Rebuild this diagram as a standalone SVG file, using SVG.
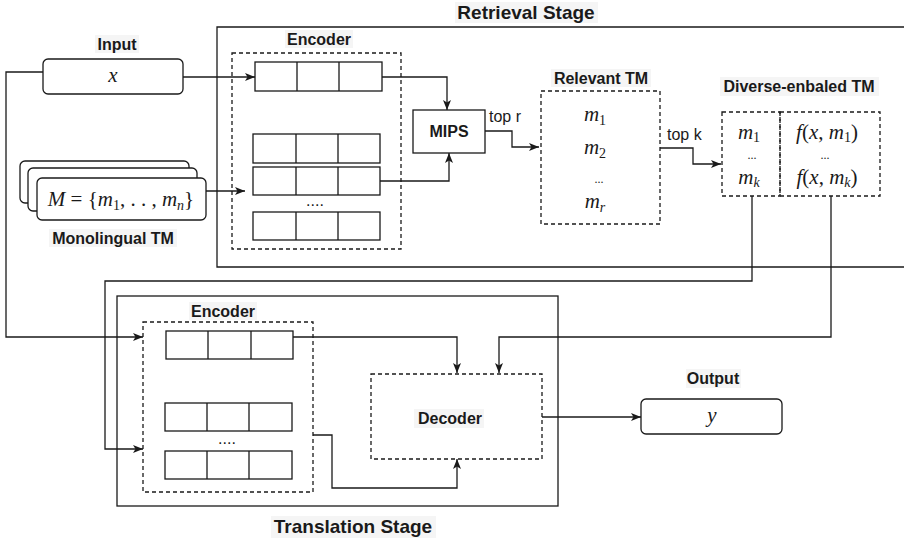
<svg xmlns="http://www.w3.org/2000/svg" width="904" height="543" viewBox="0 0 904 543">
<defs>
<style>
.ln{fill:none;stroke:#1a1a1a;stroke-width:1.3}
.box{fill:#fff;stroke:#1a1a1a;stroke-width:1.3}
.dash{fill:none;stroke:#1a1a1a;stroke-width:1.3;stroke-dasharray:4 3}
.lbl{font-family:"Liberation Sans",Arial,sans-serif;font-weight:bold;font-size:16px;fill:#1a1a1a;text-anchor:middle}
.stage{font-family:"Liberation Sans",Arial,sans-serif;font-weight:bold;font-size:19px;fill:#1a1a1a;text-anchor:middle}
.txt{font-family:"Liberation Sans",Arial,sans-serif;font-size:16px;fill:#1a1a1a}
.math{font-family:"Liberation Serif","Times New Roman",serif;font-size:21px;fill:#1a1a1a;text-anchor:middle}
.it{font-style:italic}
.sub{font-size:14px}
.dots{font-family:"Liberation Serif","Times New Roman",serif;font-size:12px;fill:#1a1a1a;text-anchor:middle}
.bg{fill:#f5f5f5}
</style>
<marker id="arr" viewBox="0 0 10 8" markerWidth="10" markerHeight="8" refX="10" refY="4" orient="auto" markerUnits="userSpaceOnUse">
<path d="M0,0 L10,4 L0,8 L2.5,4 Z" fill="#1a1a1a"/>
</marker>
</defs>

<g id="retrieval-stage">
<path class="ln" d="M904,27 H217 V267 H904"/>
<rect class="bg" x="455" y="2" width="143" height="21"/>
<text class="stage" x="526" y="19">Retrieval Stage</text>
</g>

<g id="translation-stage">
<rect class="ln" x="117" y="296" width="441" height="210"/>
<rect class="bg" x="271" y="516" width="165" height="22"/>
<text class="stage" x="353" y="533">Translation Stage</text>
</g>

<g id="input">
<rect class="bg" x="95" y="35" width="44" height="18"/>
<text class="lbl" x="117" y="50">Input</text>
<rect class="box" x="43" y="59" width="140" height="35" rx="5"/>
<text class="math it" x="113" y="82">x</text>
</g>

<g id="monolingual-tm">
<rect class="box" x="20" y="161" width="169" height="42" rx="5"/>
<rect class="box" x="28" y="168" width="169" height="43" rx="5"/>
<rect class="box" x="37" y="178" width="169" height="42" rx="5"/>
<text class="math" x="121" y="206"><tspan class="it">M</tspan> = {<tspan class="it">m</tspan><tspan class="sub" dy="4">1</tspan><tspan dy="-4">, . . , </tspan><tspan class="it">m</tspan><tspan class="sub it" dy="4">n</tspan><tspan dy="-4">}</tspan></text>
<rect class="bg" x="49" y="229" width="128" height="18"/>
<text class="lbl" x="113" y="244">Monolingual TM</text>
</g>

<g id="retrieval-encoder">
<rect class="bg" x="285" y="30" width="68" height="18"/>
<text class="lbl" x="319" y="45">Encoder</text>
<rect class="dash" x="232" y="53" width="169" height="196"/>
<rect class="box" x="255" y="62" width="127" height="29"/>
<path class="ln" d="M297,62 V91 M339,62 V91"/>
<rect class="box" x="253" y="134" width="127" height="29"/>
<path class="ln" d="M296,134 V163 M338,134 V163"/>
<rect class="box" x="253" y="167" width="127" height="28"/>
<path class="ln" d="M296,167 V195 M338,167 V195"/>
<text class="txt" x="315" y="206" text-anchor="middle" font-size="11">....</text>
<rect class="box" x="253" y="212" width="127" height="28"/>
<path class="ln" d="M296,212 V240 M338,212 V240"/>
</g>

<g id="mips">
<rect class="box" x="413" y="110" width="72" height="43"/>
<text class="lbl" x="449" y="137">MIPS</text>
</g>

<g id="relevant-tm">
<rect class="bg" x="551" y="69" width="100" height="18"/>
<text class="lbl" x="601" y="84">Relevant TM</text>
<rect class="dash" x="541" y="91" width="119" height="133"/>
<text class="math it" x="595" y="121">m<tspan class="sub" font-style="normal" dy="4">1</tspan></text>
<text class="math it" x="595" y="154">m<tspan class="sub" font-style="normal" dy="4">2</tspan></text>
<text class="dots" x="599" y="183">...</text>
<text class="math it" x="595" y="208">m<tspan class="sub" dy="4">r</tspan></text>
</g>

<g id="diverse-tm">
<rect class="bg" x="720" y="77" width="159" height="19"/>
<text class="lbl" x="799" y="92">Diverse-enbaled TM</text>
<rect class="dash" x="722" y="112" width="58" height="84"/>
<rect class="dash" x="780" y="112" width="100" height="84"/>
<text class="math it" x="749" y="139">m<tspan class="sub" font-style="normal" dy="3">1</tspan></text>
<text class="dots" x="752" y="159">...</text>
<text class="math it" x="749" y="184">m<tspan class="sub" dy="3">k</tspan></text>
<text class="math" x="827" y="139"><tspan class="it">f</tspan>(<tspan class="it">x</tspan>, <tspan class="it">m</tspan><tspan class="sub" dy="3">1</tspan><tspan dy="-3">)</tspan></text>
<text class="dots" x="825" y="159">...</text>
<text class="math" x="827" y="184"><tspan class="it">f</tspan>(<tspan class="it">x</tspan>, <tspan class="it">m</tspan><tspan class="sub it" dy="3">k</tspan><tspan dy="-3">)</tspan></text>
</g>

<g id="translation-encoder">
<rect class="bg" x="189" y="302" width="68" height="18"/>
<text class="lbl" x="223" y="317">Encoder</text>
<rect class="dash" x="143" y="322" width="170" height="170"/>
<rect class="box" x="166" y="331" width="127" height="28"/>
<path class="ln" d="M208,331 V359 M251,331 V359"/>
<rect class="box" x="165" y="403" width="127" height="28"/>
<path class="ln" d="M207,403 V431 M249,403 V431"/>
<text class="txt" x="227" y="444" text-anchor="middle" font-size="11">....</text>
<rect class="box" x="165" y="451" width="127" height="28"/>
<path class="ln" d="M207,451 V479 M249,451 V479"/>
</g>

<g id="decoder">
<rect class="dash" x="371" y="374" width="171" height="85"/>
<rect class="bg" x="414" y="409" width="70" height="19"/>
<text class="lbl" x="450" y="424">Decoder</text>
</g>

<g id="output">
<rect class="bg" x="686" y="369" width="55" height="19"/>
<text class="lbl" x="713" y="384">Output</text>
<rect class="box" x="641" y="399" width="141" height="35" rx="5"/>
<text class="math it" x="712" y="422">y</text>
</g>

<g id="connectors">
<path class="ln" marker-end="url(#arr)" d="M183,77 H255"/>
<path class="ln" marker-end="url(#arr)" d="M43,72 H6 V337 H143"/>
<path class="ln" marker-end="url(#arr)" d="M206,191 H245"/>
<path class="ln" marker-end="url(#arr)" d="M382,77 H447 V110"/>
<path class="ln" marker-end="url(#arr)" d="M380,181 H449 V153"/>
<path class="ln" marker-end="url(#arr)" d="M485,131 H512 V147 H539"/>
<path class="ln" marker-end="url(#arr)" d="M660,148 H693 V164 H721"/>
<path class="ln" marker-end="url(#arr)" d="M752,196 V281 H105 V449 H143"/>
<path class="ln" marker-end="url(#arr)" d="M831,196 V337 H499 V373"/>
<path class="ln" marker-end="url(#arr)" d="M293,337 H457 V373"/>
<path class="ln" marker-end="url(#arr)" d="M313,435 H332 V488 H457 V459"/>
<path class="ln" marker-end="url(#arr)" d="M542,417 H641"/>
</g>
<text class="txt" x="489" y="122">top r</text>
<text class="txt" x="667" y="140">top k</text>
</svg>
